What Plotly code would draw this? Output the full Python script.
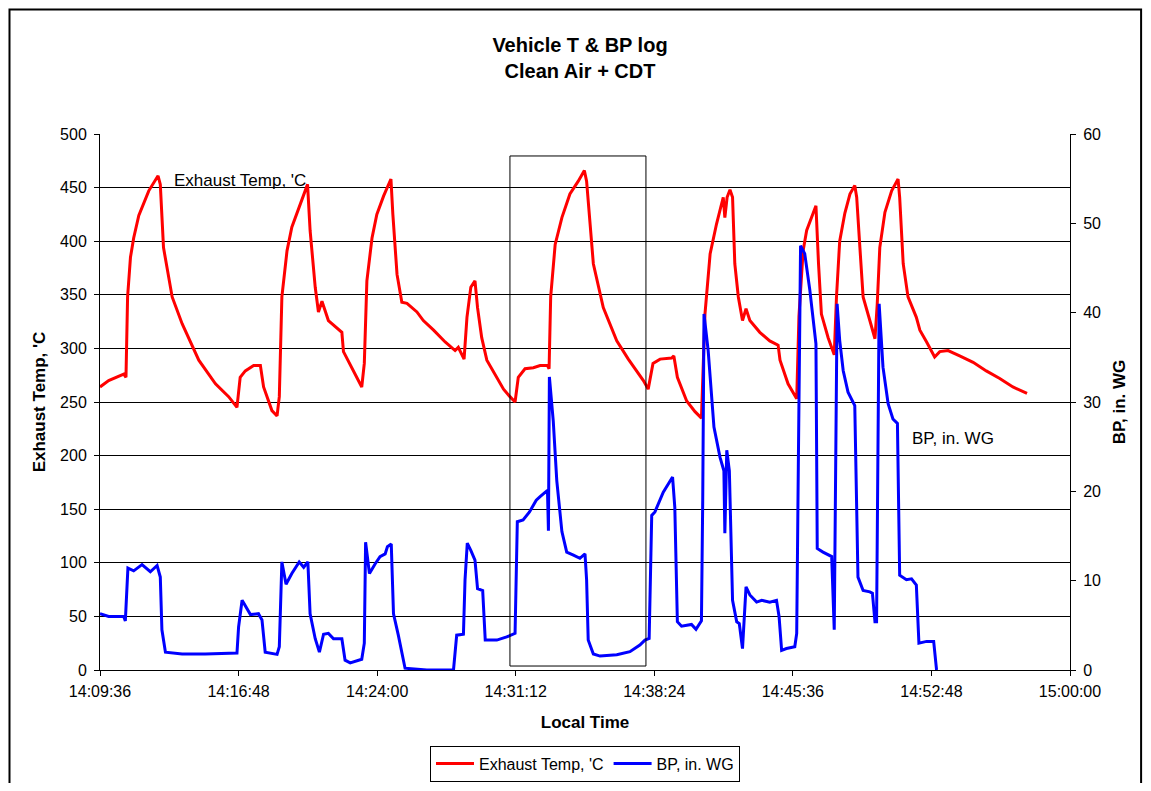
import pandas as pd
import plotly.graph_objects as go

DAY = "2000-01-01 "

# Exhaust temperature, 'C
temp_time = ["14:09:36","14:10:03","14:10:50","14:10:57","14:11:02","14:11:11","14:11:21","14:11:37","14:12:08","14:12:37",
             "14:12:44","14:12:54","14:13:21","14:13:52","14:14:44","14:15:36","14:16:17","14:16:43","14:16:53","14:17:09",
             "14:17:35","14:17:56","14:18:06","14:18:32","14:18:48","14:18:55","14:19:03","14:19:19","14:19:34","14:19:55",
             "14:20:23","14:20:31","14:20:47","14:20:57","14:21:08","14:21:28","14:22:10","14:22:15","14:22:46","14:23:12",
             "14:23:20","14:23:28","14:23:44","14:23:59","14:24:20","14:24:43","14:24:49","14:25:02","14:25:17","14:25:33",
             "14:26:04","14:26:24","14:26:56","14:27:32","14:28:03","14:28:13","14:28:31","14:28:40","14:28:52","14:29:05",
             "14:29:13","14:29:26","14:29:42","14:30:02","14:30:34","14:30:54","14:31:10","14:31:20","14:31:41","14:32:07",
             "14:32:28","14:32:51","14:32:56","14:33:01","14:33:15","14:33:36","14:34:01","14:34:27","14:34:46","14:34:53",
             "14:35:04","14:35:14","14:35:45","14:36:27","14:37:03","14:37:50","14:38:05","14:38:20","14:38:42","14:39:18",
             "14:39:25","14:39:36","14:40:05","14:40:31","14:40:51","14:40:57","14:41:02","14:41:18","14:41:38","14:41:59",
             "14:42:04","14:42:11","14:42:20","14:42:28","14:42:35","14:42:46","14:42:59","14:43:10","14:43:22","14:43:53",
             "14:44:24","14:44:50","14:44:56","14:45:21","14:45:48","14:45:55","14:46:08","14:46:19","14:46:48","14:46:56",
             "14:47:05","14:47:26","14:47:45","14:47:52","14:48:02","14:48:18","14:48:34","14:48:49","14:48:55","14:49:05",
             "14:49:15","14:49:36","14:49:52","14:49:59","14:50:07","14:50:23","14:50:44","14:51:04","14:51:09","14:51:20",
             "14:51:35","14:52:01","14:52:12","14:52:33","14:52:58","14:53:14","14:53:40","14:54:16","14:54:58","14:55:39",
             "14:56:21","14:57:02","14:57:46"]
temp_vals = [264,270,276,273,348,385,403,424,447,461,
             453,394,348,323,289,267,255,245,273,279,
             284,284,264,242,237,255,348,391,413,431,
             453,410,357,334,344,326,315,297,279,264,
             286,363,403,425,442,458,425,369,343,342,
             334,326,317,306,298,301,290,329,357,363,
             338,310,289,279,262,255,250,273,281,282,
             284,284,281,348,397,422,444,456,466,456,
             413,379,338,307,290,270,262,286,290,291,
             293,273,251,241,235,286,332,388,416,441,
             422,441,448,441,379,348,326,337,326,315,
             307,303,289,267,253,330,391,410,433,379,
             332,310,294,348,400,426,444,452,441,394,
             348,326,309,341,394,427,447,458,441,379,
             348,329,317,306,292,297,298,293,287,279,
             272,264,258]

# Back pressure, in. WG
bp_time = ["14:09:36","14:10:03","14:10:50","14:10:55","14:11:03","14:11:21","14:11:47","14:12:13","14:12:34","14:12:44",
           "14:12:49","14:13:00","14:13:52","14:15:04","14:16:43","14:16:48","14:16:59","14:17:25","14:17:50","14:18:01",
           "14:18:11","14:18:48","14:18:55","14:19:03","14:19:16","14:19:34","14:19:57","14:20:11","14:20:24","14:20:31",
           "14:20:47","14:21:00","14:21:13","14:21:28","14:21:44","14:22:10","14:22:20","14:22:36","14:23:12","14:23:20",
           "14:23:24","14:23:36","14:23:54","14:24:09","14:24:25","14:24:32","14:24:44","14:24:51","14:25:06","14:25:27",
           "14:26:35","14:27:58","14:28:08","14:28:29","14:28:34","14:28:41","14:28:52","14:29:05","14:29:13","14:29:29",
           "14:29:37","14:30:13","14:30:44","14:31:10","14:31:17","14:31:35","14:31:55","14:32:16","14:32:28","14:32:51",
           "14:32:54","14:32:57","14:33:09","14:33:20","14:33:36","14:33:51","14:34:12","14:34:32","14:34:48","14:34:53",
           "14:34:58","14:35:14","14:35:35","14:36:27","14:37:08","14:37:39","14:37:55","14:38:08","14:38:16","14:38:26",
           "14:38:52","14:39:21","14:39:28","14:39:36","14:39:49","14:40:20","14:40:34","14:40:51","14:40:55","14:40:59",
           "14:41:12","14:41:30","14:41:49","14:42:01","14:42:04","14:42:10","14:42:18","14:42:28","14:42:41","14:42:49",
           "14:42:59","14:43:10","14:43:22","14:43:43","14:43:59","14:44:24","14:44:45","14:44:53","14:45:01","14:45:16",
           "14:45:42","14:45:48","14:45:53","14:46:00","14:46:13","14:46:29","14:46:48","14:46:52","14:47:10","14:47:31",
           "14:47:37","14:47:45","14:47:54","14:48:02","14:48:13","14:48:28","14:48:49","14:48:59","14:49:15","14:49:36",
           "14:49:44","14:49:52","14:49:57","14:50:05","14:50:17","14:50:33","14:50:48","14:51:02","14:51:09","14:51:30",
           "14:51:46","14:52:01","14:52:09","14:52:33","14:52:55","14:53:04"]
bp_vals = [6.3,6.0,6.0,5.5,11.4,11.1,11.8,11.0,11.7,10.4,
           4.5,2.0,1.8,1.8,1.9,4.8,7.8,6.2,6.3,5.6,
           2.0,1.75,2.6,12.1,9.6,10.8,12.1,11.5,12.1,6.3,
           3.5,2.0,4.0,4.1,3.5,3.5,1.1,0.8,1.2,3.0,
           14.3,10.8,11.9,12.7,13.0,13.8,14.1,6.3,3.9,0.2,
           0,0,3.9,4.0,10.1,14.2,13.4,12.3,9.1,8.9,
           3.35,3.35,3.7,4.1,16.6,16.8,17.7,19.0,19.4,20.1,
           15.6,32.8,27.9,21.2,15.5,13.2,12.85,12.5,13.0,10.1,
           3.35,1.8,1.56,1.7,2.05,2.8,3.35,3.54,17.3,17.7,
           19.9,21.6,18.2,5.4,4.9,5.1,4.55,5.5,19.0,39.85,
           35.75,27.2,23.8,22.3,15.3,24.6,22.3,7.8,5.4,5.2,
           2.4,9.3,8.4,7.6,7.8,7.6,7.8,6.0,2.2,2.4,
           2.6,4.1,22.7,47.5,46.6,42.5,36.5,13.6,13.2,12.85,
           12.7,4.5,41.0,36.9,33.5,31.1,29.6,10.4,8.9,8.75,
           8.6,5.4,5.4,41.0,33.9,29.8,28.1,27.6,10.6,10.1,
           10.2,9.5,3.0,3.2,3.2,0]

x_start, x_end = "14:09:36", "15:00:00"
temp_ticks = [0, 50, 100, 150, 200, 250, 300, 350, 400, 450, 500]
bp_ticks = [0, 10, 20, 30, 40, 50, 60]
box_t0, box_t1 = "14:30:54", "14:37:58"
box_v0, box_v1 = 3.7, 479.5

FONT = "Liberation Sans, Arial, sans-serif"
W, H = 1135, 775  # page body adds an 8px margin on each side

def ts(lst):
    return pd.to_datetime([DAY + t for t in lst])

fig = go.Figure()
fig.add_trace(go.Scatter(x=ts(temp_time), y=temp_vals, name="Exhaust Temp, 'C",
                         mode="lines", line=dict(color="#ff0000", width=3), yaxis="y"))
fig.add_trace(go.Scatter(x=ts(bp_time), y=bp_vals, name="BP, in. WG",
                         mode="lines", line=dict(color="#0000ff", width=3), yaxis="y2"))

fig.add_shape(type="rect", xref="x", yref="y", x0=DAY + box_t0, x1=DAY + box_t1,
              y0=box_v0, y1=box_v1, line=dict(color="black", width=1), layer="above")
# outer chart border
fig.add_shape(type="rect", xref="paper", yref="paper", x0=-0.0933, x1=1.0733,
              y0=-0.25, y1=1.2323, line=dict(color="black", width=2))

fig.add_annotation(x=DAY + "14:13:22", y=457, xref="x", yref="y", text="Exhaust Temp, 'C",
                   showarrow=False, xanchor="left", yanchor="middle",
                   font=dict(family=FONT, size=17, color="black"))
fig.add_annotation(x=DAY + "14:51:40", y=216, xref="x", yref="y", text="BP, in. WG",
                   showarrow=False, xanchor="left", yanchor="middle",
                   font=dict(family=FONT, size=17, color="black"))

fig.update_layout(
    width=W, height=H,
    margin=dict(l=92, r=72.6, t=126, b=113, autoexpand=False),
    paper_bgcolor="white", plot_bgcolor="white",
    font=dict(family=FONT, size=16, color="black"),
    title=dict(text="<b>Vehicle T & BP log<br>Clean Air + CDT</b>", x=572 / W, xanchor="center",
               y=1 - 44 / H, yanchor="middle", yref="container",
               font=dict(family=FONT, size=20, color="black")),
    xaxis=dict(type="date", range=[DAY + x_start, DAY + x_end],
               tick0=DAY + x_start, dtick=432000, tickformat="%H:%M:%S",
               showgrid=False, showline=True, linecolor="black", linewidth=1,
               ticks="outside", ticklen=5, tickcolor="black", ticklabelstandoff=2,
               title=dict(text="<b>Local Time</b>", font=dict(size=17), standoff=16)),
    yaxis=dict(range=[0, 500], tickvals=temp_ticks, showgrid=True, gridcolor="black", gridwidth=1,
               showline=True, linecolor="black", linewidth=1, ticks="outside", ticklen=5,
               tickcolor="black", zeroline=False, ticklabelstandoff=4,
               title=dict(text="<b>Exhaust Temp, 'C</b>", font=dict(size=17), standoff=10)),
    yaxis2=dict(range=[0, 60], tickvals=bp_ticks, overlaying="y", side="right", showgrid=False,
                showline=True, linecolor="black", linewidth=1, ticks="outside", ticklen=5,
                tickcolor="black", zeroline=False, ticklabelstandoff=4,
                title=dict(text="<b>BP, in. WG</b>", font=dict(size=17), standoff=13)),
    legend=dict(orientation="h", x=0.5, xanchor="center", y=-0.141, yanchor="top",
                bordercolor="black", borderwidth=1, bgcolor="white",
                font=dict(family=FONT, size=16), itemwidth=38, tracegroupgap=0),
    showlegend=True,
)

fig.write_html("out.html")
